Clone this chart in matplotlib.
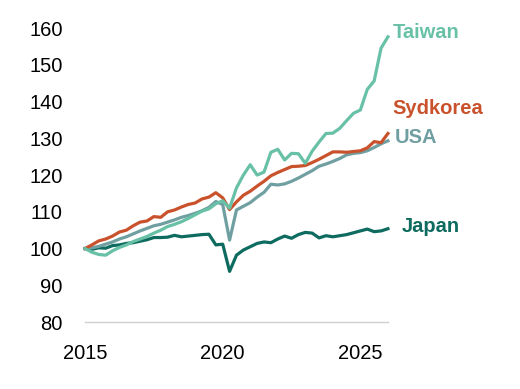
import numpy as np
import matplotlib
matplotlib.use("Agg")
import matplotlib.pyplot as plt

plt.rcParams["font.family"] = ["Liberation Sans", "DejaVu Sans"]

# quarterly index, 2015Q1 = 100
quarters = 2015 + np.arange(45) / 4

taiwan = [100, 99.0, 98.4, 98.2, 99.4, 100.3, 101.0, 101.9, 102.6, 103.3,
          104.2, 105.0, 106.0, 106.6, 107.3, 108.2, 109.2, 110.2, 110.8, 112.2,
          113.0, 111.0, 116.5, 120.0, 122.8, 120.0, 120.8, 126.2, 127.0, 124.1,
          125.9, 125.8, 123.2, 126.5, 129.0, 131.3, 131.4, 132.7, 134.8, 136.8,
          137.7, 143.3, 145.6, 154.5, 157.6]
sydkorea = [100, 101.0, 102.1, 102.6, 103.4, 104.5, 105.0, 106.2, 107.2, 107.5,
            108.7, 108.5, 110.0, 110.5, 111.3, 112.0, 112.4, 113.5, 114.0, 115.2,
            113.8, 110.6, 112.7, 114.5, 115.6, 117.0, 118.3, 119.8, 120.7, 121.5,
            122.3, 122.4, 122.6, 123.4, 124.3, 125.3, 126.3, 126.3, 126.2, 126.4,
            126.6, 127.4, 129.1, 128.8, 131.3]
usa = [100, 100.2, 100.6, 101.2, 101.8, 102.6, 103.2, 104.0, 104.8, 105.5,
       106.2, 106.6, 107.2, 107.8, 108.5, 109.0, 109.6, 110.3, 111.2, 112.8,
       112.0, 102.3, 110.5, 111.5, 112.5, 114.0, 115.3, 117.5, 117.3, 117.6,
       118.3, 119.2, 120.2, 121.2, 122.4, 123.0, 123.7, 124.5, 125.5, 125.9,
       126.1, 126.6, 127.5, 128.5, 129.3]
japan = [100, 99.8, 100.2, 100.1, 100.8, 101.0, 101.4, 101.6, 102.0, 102.4,
         103.0, 103.0, 103.1, 103.6, 103.2, 103.4, 103.6, 103.8, 103.9, 101.0,
         101.2, 93.8, 98.2, 99.6, 100.5, 101.4, 101.8, 101.6, 102.6, 103.4,
         102.8, 103.8, 104.4, 104.2, 102.9, 103.5, 103.2, 103.5, 103.8, 104.3,
         104.8, 105.3, 104.6, 104.8, 105.4]

names = ["Japan", "USA", "Sydkorea", "Taiwan"]
colors = {"Taiwan": "#68c1a6", "Sydkorea": "#c9522c",
          "USA": "#709fa1", "Japan": "#0e6b5f"}
series = {"Taiwan": taiwan, "Sydkorea": sydkorea, "USA": usa, "Japan": japan}

fig = plt.figure(figsize=(5.2, 3.89), dpi=100)
ax = fig.add_axes([0.1635, 0.172, 0.5825, 0.756])

for name in names:
    ax.plot(quarters, series[name], color=colors[name], lw=2.3,
            solid_joinstyle="round", clip_on=False)

# end labels
label_pos = {"Taiwan": (2026.18, 158.9), "Sydkorea": (2026.18, 138.2),
             "USA": (2026.25, 130.3), "Japan": (2026.5, 105.9)}
for name, (lx, ly) in label_pos.items():
    ax.text(lx, ly, name, color=colors[name], fontsize=14.5, fontweight="bold",
            ha="left", va="center", clip_on=False)

ax.set_xlim(2015, 2026)
ax.set_ylim(80, 160)
ax.set_xticks([2015, 2020, 2025])
ax.set_yticks(range(80, 161, 10))
ax.tick_params(length=0, labelsize=14.5, pad=16)
for s in ("top", "right", "left"):
    ax.spines[s].set_visible(False)
ax.spines["bottom"].set_color("#d0d0d0")
ax.spines["bottom"].set_linewidth(1)

fig.savefig("out.png", dpi=100)
